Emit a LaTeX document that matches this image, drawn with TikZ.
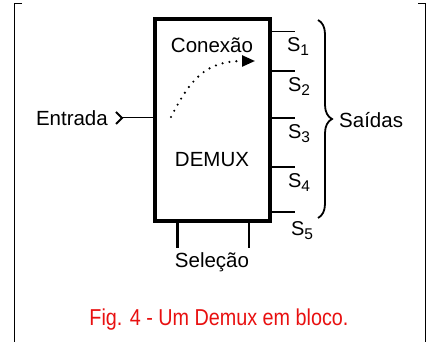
\documentclass[tikz,border=0pt]{standalone}
\usepackage{fontspec}
\setmainfont{Liberation Sans}
\newfontfamily\capfont[FakeStretch=0.86]{Liberation Sans}
\usetikzlibrary{arrows.meta,decorations.pathreplacing}
\definecolor{capred}{RGB}{232,16,16}
\newcommand{\outsub}[1]{\raisebox{-4pt}{\fontsize{15.5}{18}\selectfont #1}}
\tikzset{
  lbl/.style={font=\fontsize{20.5}{24}\selectfont, inner sep=0pt},
  outlbl/.style={font=\fontsize{20}{24}\selectfont, inner sep=0pt},
}
\begin{document}
\begin{tikzpicture}[x=1pt,y=1pt]
  \useasboundingbox (0,0) rectangle (430,342);
  % frame
  \draw[line width=1pt] (22,338) -- (14,338) -- (14,0);
  \draw[line width=1pt] (418,338) -- (425,338) -- (425,0);
  % block
  \node[draw, line width=4pt, minimum width=115pt, minimum height=202pt, inner sep=0pt] (demux) at (212.5,222) {};
  \node[lbl] (conexao) at (212,297) {Conexão};
  \node[lbl] (demuxtxt) at (212,182) {DEMUX};
  % input
  \node[lbl, anchor=east] (entrada) at (108,224) {Entrada};
  \coordinate (in) at (122,224);
  \draw[line width=1.8pt] (116,230) -- (in) -- (116,218);
  \draw[line width=1pt] (in) -- (demux.west |- in);
  \draw[line width=2.4pt, dash pattern=on 0pt off 7pt, line cap=round, -{Triangle[length=13pt,width=11pt]}]
    (171,225) .. controls (190,262) and (205,281) .. (255,281);
  % outputs
  \foreach \i/\y/\w in {1/310/1,2/271/2.6,3/224/2.6,4/175/1.2,5/130/1.2} {
    \coordinate (e\i) at (295,\y);
    \draw[line width=\w pt] (demux.east |- e\i) -- (e\i);
  }
  \foreach \i/\x/\y in {1/298/295,2/299/255,3/299/208,4/299/159,5/302/111}
    \node[outlbl] (S\i) at (\x,\y) {S\outsub{\i}};
  \coordinate (btop) at (318,322);
  \coordinate (bbot) at (318,124);
  \draw[line width=1.8pt, decorate, decoration={brace, amplitude=14pt}] (btop) -- (bbot);
  \node[lbl, anchor=west] (saidas) at (339,222) {Saídas};
  % selection
  \coordinate (c1) at (177,94);
  \coordinate (c2) at (249,94);
  \draw[line width=3pt] (demux.south -| c1) -- (c1);
  \draw[line width=2pt] (demux.south -| c2) -- (c2);
  \node[lbl] (selecao) at (212,80) {Seleção};
  % caption
  \node[font=\capfont\fontsize{23}{26}\selectfont, text=capred] (cap) at (219,22) {Fig. 4 - Um Demux em bloco.};
\end{tikzpicture}
\end{document}
